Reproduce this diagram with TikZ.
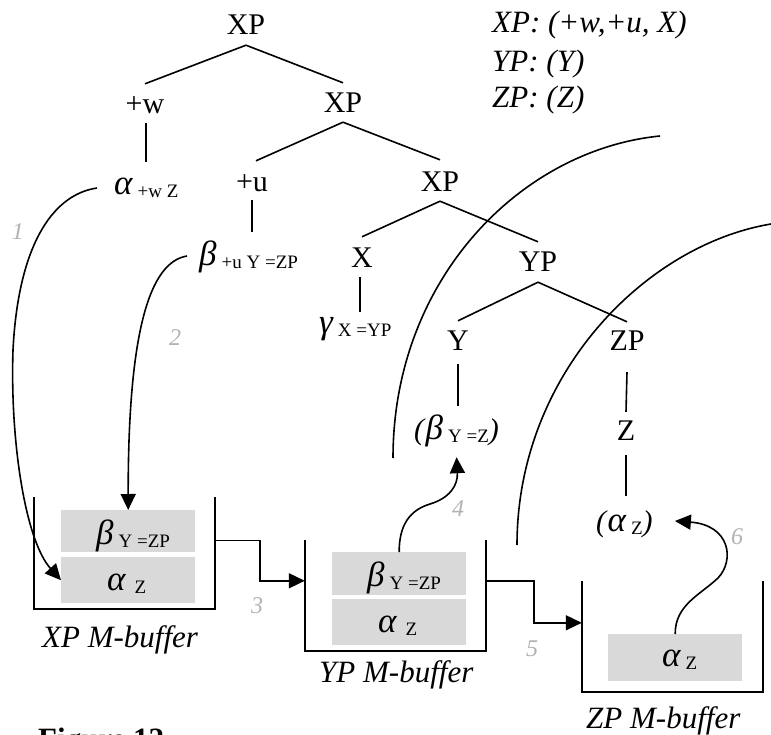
\documentclass[tikz,border=0pt]{standalone}
\usepackage{fontspec}
\setmainfont{Liberation Serif}
\usetikzlibrary{arrows.meta,calc}
\definecolor{numgrey}{RGB}{178,178,178}
\definecolor{cellgrey}{RGB}{217,217,217}
\newcommand{\sbx}[1]{\raisebox{-3pt}{\fontsize{19}{20}\selectfont #1}}
\newcommand{\gk}[1]{{\fontsize{35}{36}\selectfont\itshape #1}}
\begin{document}
\begin{tikzpicture}[x=1pt,y=-1pt,
 tn/.style={inner sep=0pt, text height=20pt, text depth=0pt, anchor=base, font=\fontsize{30}{34}\selectfont},
 lab/.style={inner sep=0pt, text height=20pt, text depth=6pt, anchor=base west, font=\fontsize{30}{34}\selectfont},
 ilab/.style={lab, font=\fontsize{31}{34}\selectfont\itshape},
 num/.style={inner sep=0pt, text=numgrey, font=\fontsize{24}{26}\selectfont\itshape},
 edge/.style={line width=1.6pt},
 bufline/.style={line width=2.2pt},
 buf/.style={inner sep=0pt, minimum width=181pt, minimum height=111pt},
 cell/.style={fill=cellgrey, draw=none, inner sep=0pt, anchor=north west, minimum width=134pt},
 arr/.style={line width=1.6pt, -{Triangle[length=16pt,width=15pt]}},
]
\useasboundingbox (0,0) rectangle (771,735);

% tree nodes
\node[tn] (xp1) at (246,35) {XP};
\node[tn] (pw) at (145,114) {+w};
\node[tn] (xp2) at (343,113) {XP};
\node[tn] (pu) at (252,192) {+u};
\node[tn] (xp3) at (440,192) {XP};
\node[tn] (nx) at (362,268) {X};
\node[tn] (yp) at (538,272) {YP};
\node[tn] (ny) at (458,350) {Y};
\node[tn] (zp) at (627,350) {ZP};
\node[tn] (nz) at (626,440) {Z};

\node[lab] (a1) at (114,195) {\gk{α}\,\sbx{+w Z}};
\node[lab] (b1) at (199,266) {\gk{β}\,\sbx{+u Y =ZP}};
\node[lab] (g1) at (319,334) {\gk{γ}\,\sbx{X =YP}};
\node[lab] (bz) at (414,439) {\textit{(}\gk{β}\,\sbx{Y =Z}\textit{)}};
\node[lab] (az) at (596,531) {\textit{(}\gk{α}\,\sbx{Z}\textit{)}};

% legend
\node[ilab] (l1) at (492,33) {XP: (+w,+u, X)};
\node[ilab] (l2) at (492,72) {YP: (Y)};
\node[ilab] (l3) at (492,108) {ZP: (Z)};

% tree edges
\draw[edge] ([yshift=-10pt]xp1.south) -- ([yshift=10pt]pw.north);
\draw[edge] ([yshift=-10pt]xp1.south) -- ([yshift=10pt]xp2.north);
\draw[edge] ([yshift=-9pt]xp2.south) -- ([yshift=11pt,xshift=4pt]pu.north);
\draw[edge] ([yshift=-9pt]xp2.south) -- ([yshift=12pt]xp3.north);
\draw[edge] ([yshift=-9pt]xp3.south) -- ([yshift=11pt]nx.north);
\draw[edge] ([yshift=-9pt]xp3.south) -- ([yshift=10pt]yp.north);
\draw[edge] ([yshift=-10pt]yp.south) -- ([yshift=9pt]ny.north);
\draw[edge] ([yshift=-10pt]yp.south) -- ([yshift=8pt]zp.north);
\draw[edge] ([yshift=-9pt,xshift=1pt]pw.south) -- ($(pw.south |- a1.north)+(1,-13)$);
\draw[edge] ([yshift=-8pt]pu.south) -- ($(pu.south |- b1.north)+(0,-14)$);
\draw[edge] ([yshift=-9pt,xshift=-2pt]nx.south) -- ($(nx.south |- g1.north)+(-2,-2)$);
\draw[edge] ([yshift=-14pt]ny.south) -- ($(ny.south |- bz.north)+(0,-13)$);
\draw[edge] ([yshift=-22pt]zp.south) -- ([yshift=8pt]nz.north);
\draw[edge] ([yshift=-15pt]nz.south) -- ($(nz.south |- az.north)+(0,-15)$);

% big arcs
\draw[edge] (660,136) .. controls (520,150) and (393,280) .. (393,458);
\draw[edge] (771,224) .. controls (645,245) and (517,375) .. (517,545);

% buffers
\node[buf] (xbuf) at (124.5,553) {};
\node[buf] (ybuf) at (395.5,595.5) {};
\node[buf] (zbuf) at (672.5,636.5) {};
\foreach \b in {xbuf,ybuf,zbuf}{
  \draw[bufline] (\b.north west) -- (\b.south west) -- (\b.south east) -- (\b.north east);
}

% cells
\node[cell, minimum height=42pt] (xc1) at (61,510) {};
\node[cell, minimum height=46pt] (xc2) at (61,557) {};
\node[cell, minimum height=43pt] (yc1) at (332,552) {};
\node[cell, minimum height=46pt] (yc2) at (332,599) {};
\node[cell, minimum height=47pt] (zc1) at (608,634) {};

\node[lab] (xt1) at (96,544) {\gk{β}\,\sbx{Y =ZP}};
\node[lab] (xt2) at (107,590) {\gk{α}\hspace{9pt}\sbx{Z}};
\node[lab] (yt1) at (367,586) {\gk{β}\,\sbx{Y =ZP}};
\node[lab] (yt2) at (378,632) {\gk{α}\hspace{9pt}\sbx{Z}};
\node[lab] (zt1) at (662,666) {\gk{α}\hspace{5pt}\sbx{Z}};

\node[ilab] (xl) at (42,647) {XP M-buffer};
\node[ilab] (yl) at (319,682) {YP M-buffer};
\node[ilab] (zl) at (586,728) {ZP M-buffer};

% movement arrows
\draw[arr] ([xshift=-17pt]a1.west) .. controls (50,195) and (18,250) .. (13,350)
   .. controls (10,440) and (25,540) .. (xc2.west);
\draw[arr] ([xshift=-12pt,yshift=3pt]b1.west) .. controls (150,262) and (128,330) .. (xc1.north);
\draw[arr] ($(xbuf.north east)+(0,43)$) -- ++(45,0) |- ($(ybuf.north west)+(0,41)$);
\draw[arr] (yc1.north) .. controls (399,525) and (410,510) .. (430,504)
   .. controls (450,498) and (458,485) .. ([yshift=-12pt]bz.south);
\draw[arr] ($(ybuf.north east)+(0,41)$) -- ++(48,0) |- ($(zbuf.north west)+(0,42)$);
\draw[arr] (zc1.north) .. controls (675,605) and (700,595) .. (718,578)
   .. controls (735,560) and (730,525) .. ([xshift=22pt,yshift=3pt]az.east);

% step numbers
\node[num] (n1) at (18,232) {1};
\node[num] (n2) at (175,338) {2};
\node[num] (n3) at (257,606) {3};
\node[num] (n4) at (458,509) {4};
\node[num] (n5) at (532,649) {5};
\node[num] (n6) at (737,537) {6};

\node[anchor=base west, inner sep=0pt, font=\fontsize{31}{34}\selectfont\bfseries] (fig) at (38,749) {Figure 12};
\end{tikzpicture}
\end{document}
